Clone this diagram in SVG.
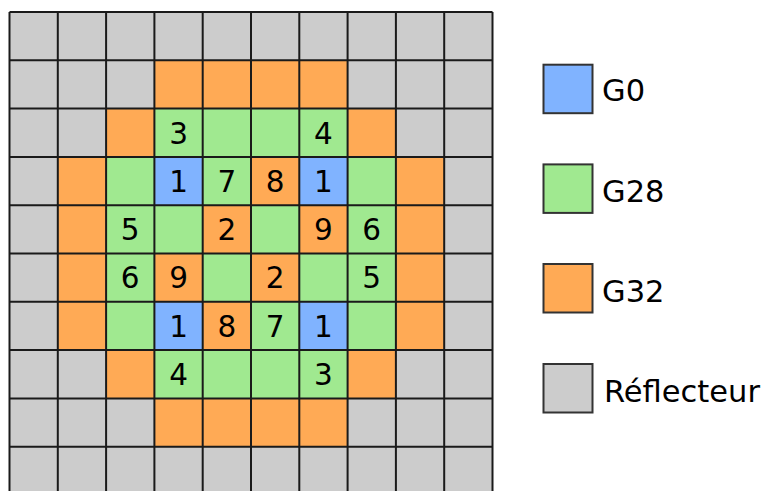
<svg xmlns="http://www.w3.org/2000/svg" width="768" height="491" viewBox="0 0 768 491">
<style>
.gy{fill:#cccccc}
.or{fill:#ffaa55}
.gn{fill:#a0e990}
.bl{fill:#80b3ff}
.cells rect{stroke:none}
.grid{fill:none;stroke:#1a1a1a;stroke-width:2}
.num{font-family:"DejaVu Sans","Liberation Sans",sans-serif;font-size:29.5px;fill:#000;text-anchor:middle}
.lbox{stroke:#333;stroke-width:2}
.ltxt{font-family:"DejaVu Sans","Liberation Sans",sans-serif;font-size:30.5px;fill:#000}
</style>
<rect width="768" height="491" fill="#fff"/>
<g id="grid">
<g class="cells">
<rect class="gy" x="9.5" y="12" width="483" height="483"/>
<rect class="gn" x="154.4" y="108.6" width="193.2" height="48.3"/>
<rect class="gn" x="106.1" y="156.9" width="289.8" height="193.2"/>
<rect class="gn" x="154.4" y="350.1" width="193.2" height="48.3"/>
<rect class="or" x="154.4" y="60.3" width="193.2" height="48.3"/>
<rect class="or" x="154.4" y="398.4" width="193.2" height="48.3"/>
<rect class="or" x="106.1" y="108.6" width="48.3" height="48.3"/>
<rect class="or" x="347.6" y="108.6" width="48.3" height="48.3"/>
<rect class="or" x="106.1" y="350.1" width="48.3" height="48.3"/>
<rect class="or" x="347.6" y="350.1" width="48.3" height="48.3"/>
<rect class="or" x="57.8" y="156.9" width="48.3" height="193.2"/>
<rect class="or" x="395.9" y="156.9" width="48.3" height="193.2"/>
<rect class="or" x="251" y="156.9" width="48.3" height="48.3"/>
<rect class="or" x="202.7" y="205.2" width="48.3" height="48.3"/>
<rect class="or" x="299.3" y="205.2" width="48.3" height="48.3"/>
<rect class="or" x="154.4" y="253.5" width="48.3" height="48.3"/>
<rect class="or" x="251" y="253.5" width="48.3" height="48.3"/>
<rect class="or" x="202.7" y="301.8" width="48.3" height="48.3"/>
<rect class="bl" x="154.4" y="156.9" width="48.3" height="48.3"/>
<rect class="bl" x="299.3" y="156.9" width="48.3" height="48.3"/>
<rect class="bl" x="154.4" y="301.8" width="48.3" height="48.3"/>
<rect class="bl" x="299.3" y="301.8" width="48.3" height="48.3"/>
</g>
<path class="grid" d="M9.5 12V495M57.8 12V495M106.1 12V495M154.4 12V495M202.7 12V495M251 12V495M299.3 12V495M347.6 12V495M395.9 12V495M444.2 12V495M492.5 12V495M9.5 12H492.5M9.5 60.3H492.5M9.5 108.6H492.5M9.5 156.9H492.5M9.5 205.2H492.5M9.5 253.5H492.5M9.5 301.8H492.5M9.5 350.1H492.5M9.5 398.4H492.5M9.5 446.7H492.5"/>
<g class="num">
<text x="178.55" y="143.5">3</text>
<text x="323.45" y="143.5">4</text>
<text x="178.55" y="191.8">1</text>
<text x="226.85" y="191.8">7</text>
<text x="275.15" y="191.8">8</text>
<text x="323.45" y="191.8">1</text>
<text x="130.25" y="240.1">5</text>
<text x="226.85" y="240.1">2</text>
<text x="323.45" y="240.1">9</text>
<text x="371.75" y="240.1">6</text>
<text x="130.25" y="288.4">6</text>
<text x="178.55" y="288.4">9</text>
<text x="275.15" y="288.4">2</text>
<text x="371.75" y="288.4">5</text>
<text x="178.55" y="336.7">1</text>
<text x="226.85" y="336.7">8</text>
<text x="275.15" y="336.7">7</text>
<text x="323.45" y="336.7">1</text>
<text x="178.55" y="385">4</text>
<text x="323.45" y="385">3</text>
</g>
</g>
<g id="legend-g0"><rect class="lbox bl" x="543.5" y="64.7" width="49" height="48.5"/><text class="ltxt" x="602" y="100.7">G0</text></g>
<g id="legend-g28"><rect class="lbox gn" x="543.5" y="164.4" width="49" height="48.5"/><text class="ltxt" x="602" y="201.5">G28</text></g>
<g id="legend-g32"><rect class="lbox or" x="543.5" y="264" width="49" height="48.5"/><text class="ltxt" x="602" y="301.5">G32</text></g>
<g id="legend-reflecteur"><rect class="lbox gy" x="543.5" y="364" width="49" height="48.5"/><text class="ltxt" x="604" y="401.5">Réflecteur</text></g>
</svg>
